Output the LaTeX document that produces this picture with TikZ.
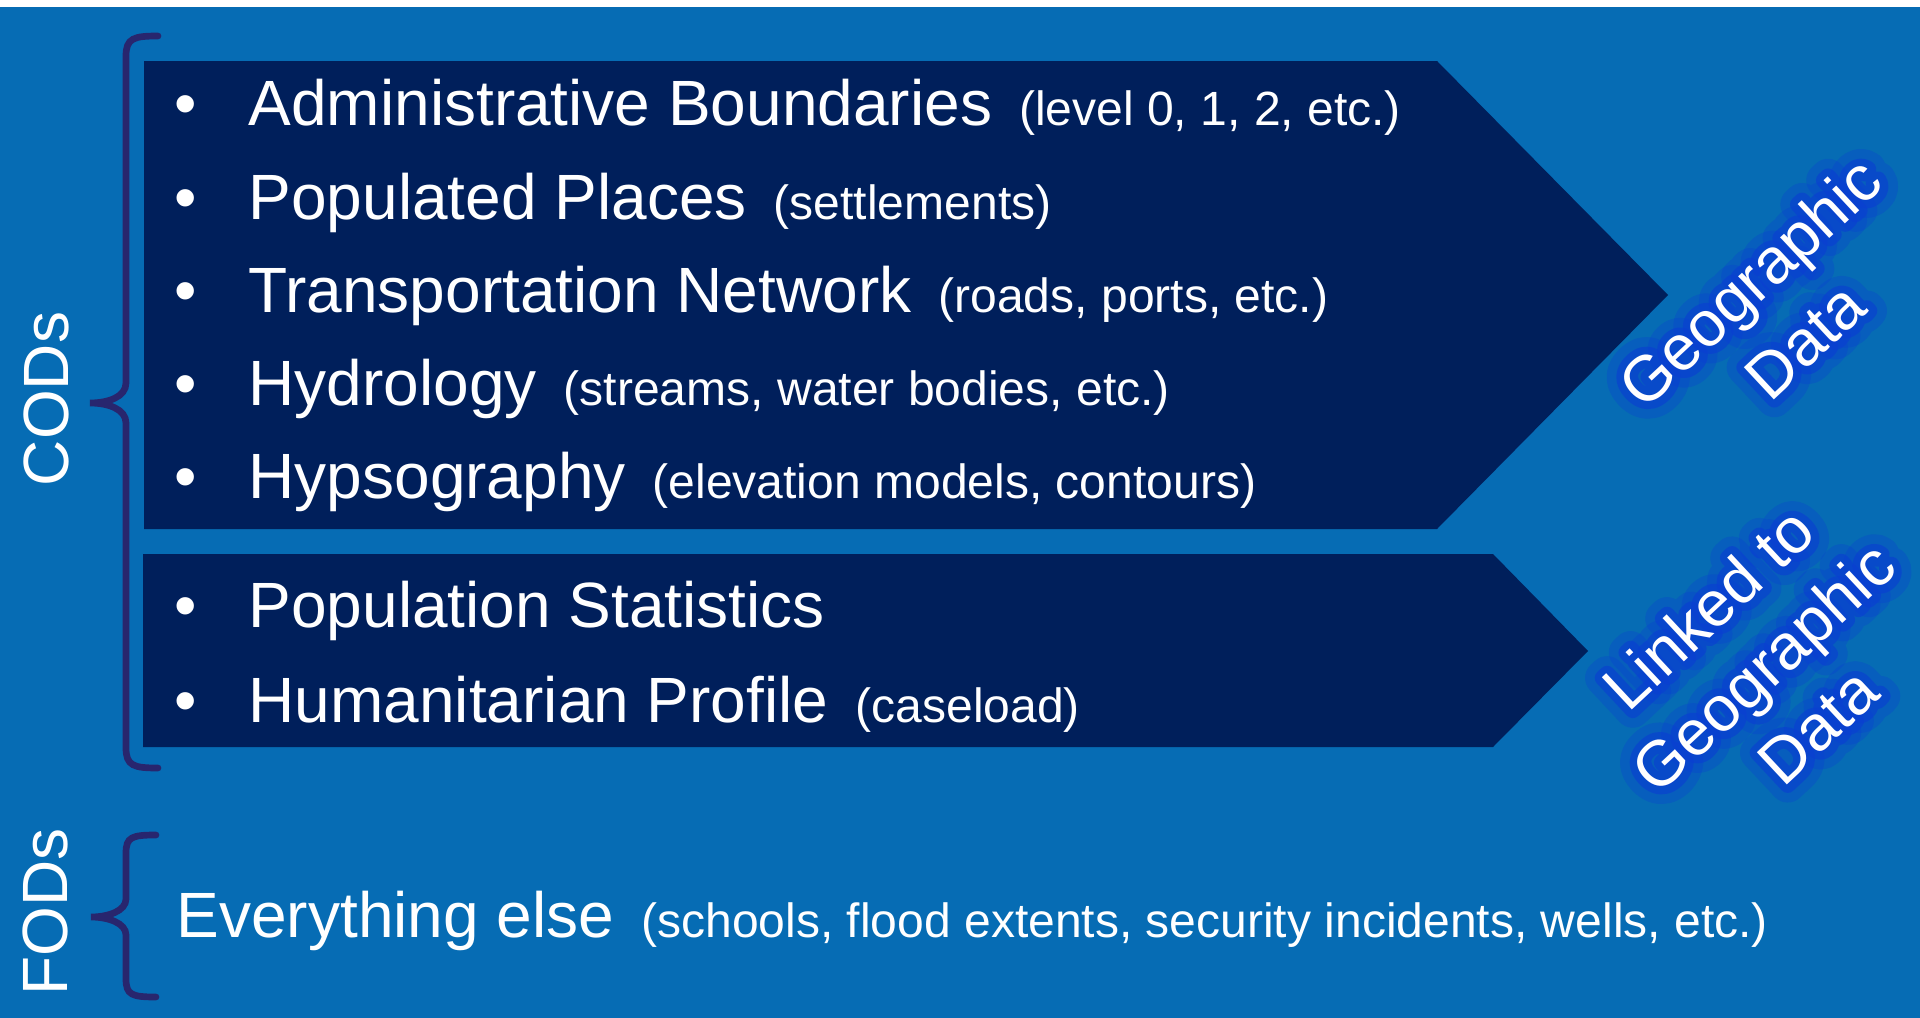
\documentclass[tikz,border=0pt]{standalone}
\usepackage{fontspec}
\setmainfont{Liberation Sans}
\newfontfamily\glowwide[FakeBold=55]{Liberation Sans}
\newfontfamily\glownarrow[FakeBold=25]{Liberation Sans}
\usepackage{tikz}

\definecolor{bgblue}{RGB}{6,108,180}
\definecolor{navy}{RGB}{0,31,91}
\definecolor{bracecol}{RGB}{40,38,110}
\definecolor{glowblue}{RGB}{10,62,210}

\newcommand{\mainsize}{\fontsize{18.2pt}{22.8pt}\selectfont}
\newcommand{\notesize}{\fontsize{13.66pt}{16pt}\selectfont}
\newcommand{\Note}[1]{\hspace{0.27cm}{\notesize #1}}
\newcommand{\GlowNode}[3]{%
  \node[glow, font={\glowwide\mainsize}, opacity=0.3] (#1-halo) at (#2) {#3};
  \node[glow, font={\glownarrow\mainsize}, opacity=0.6] (#1-rim) at (#2) {#3};
  \node[geo] (#1) at (#2) {#3};
}

\begin{document}
\begin{tikzpicture}[x=0.01cm, y=-0.01cm,
    item/.style={anchor=base west, inner sep=0pt, text=white, font=\mainsize},
    dot/.style={anchor=base, inner sep=0pt, text=white, font=\mainsize},
    side/.style={rotate=90, inner sep=0pt, text=white, font=\mainsize},
    geo/.style={rotate=43, align=center, inner sep=0pt, text=white, font=\mainsize},
    glow/.style={geo, text=glowblue, line join=round},
    brace/.style={draw=bracecol, line width=1.9pt, line cap=round}]

    \useasboundingbox (0,0) rectangle (1920,1018);
    \fill[white] (0,0) rectangle (1920,7);
    \fill[bgblue] (0,7) rectangle (1920,1018);

    % the two arrow boxes
    \fill[navy] (144,61) -- (1437,61) -- (1668,295) -- (1437,529) -- (144,529) -- cycle;
    \fill[navy] (143,554) -- (1493,554) -- (1588,651) -- (1493,747) -- (143,747) -- cycle;

    \foreach \y/\n in {126/1,219/2,312/3,405/4,498/5,627/6,722/7}
        \node[dot] (b\n) at (186,\y) {\textbullet};

    \node[item] (adm) at (248,126) {Administrative Boundaries\Note{(level 0, 1, 2, etc.)}};
    \node[item] (pop) at (248,219) {Populated Places\Note{(settlements)}};
    \node[item] (trn) at (248,312) {Transportation Network\Note{(roads, ports, etc.)}};
    \node[item] (hyd) at (248,405) {Hydrology\Note{(streams, water bodies, etc.)}};
    \node[item] (hyp) at (248,498) {Hypsography\Note{(elevation models, contours)}};
    \node[item] (sta) at (248,627) {Population Statistics};
    \node[item] (hum) at (248,722) {Humanitarian Profile\Note{(caseload)}};

    \node[item] (else) at (176,937) {Everything else\Note{(schools, flood extents, security incidents, wells, etc.)}};

    % braces
    \draw[brace] (158,36) .. controls (134,36) and (126,38) .. (126,56) -- (126,383)
        .. controls (126,397) and (108,403) .. (90,403)
        .. controls (108,403) and (126,409) .. (126,423) -- (126,748)
        .. controls (126,766) and (134,768) .. (158,768);
    \draw[brace] (156,835) .. controls (132,835) and (126,837) .. (126,853) -- (126,899)
        .. controls (126,911) and (108,917) .. (91,917)
        .. controls (108,917) and (126,923) .. (126,935) -- (126,979)
        .. controls (126,995) and (132,997) .. (156,997);

    \node[side] (cods) at (46,399) {CODs};
    \node[side] (fods) at (45,912) {FODs};

    \GlowNode{geodata}{1777,311}{Geographic\\Data}
    \GlowNode{linked}{1763,667}{Linked to\\Geographic\\Data}

\end{tikzpicture}
\end{document}
